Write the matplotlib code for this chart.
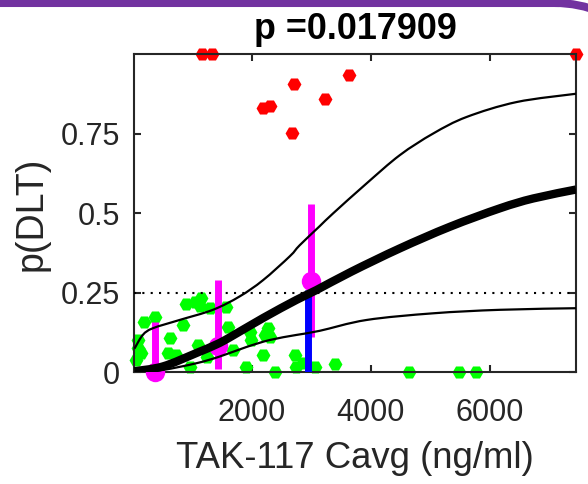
import matplotlib
matplotlib.use('Agg')
import matplotlib.pyplot as plt
import numpy as np
from matplotlib.patches import Arc, PathPatch
from matplotlib.path import Path
from matplotlib.lines import Line2D
from matplotlib.transforms import IdentityTransform

plt.rcParams['font.family'] = ['Liberation Sans', 'DejaVu Sans']

# ---- text ----
title_text = 'p =0.017909'
x_label = 'TAK-117 Cavg (ng/ml)'
y_label = 'p(DLT)'
x_ticks = [2000, 4000, 6000]
x_ticklabels = ['2000', '4000', '6000']
y_ticks = [0, 0.25, 0.5, 0.75]
y_ticklabels = ['0', '0.25', '0.5', '0.75']
x_limits = [33, 7445]
y_limits = [0, 1]
target_rate = 0.25

# ---- patients without DLT (green, jittered) ----
no_dlt_x = [185, 370, 89, 89, 62, 146, 634, 845, 903, 1042, 1155, 1126, 1294, 1575,
            593, 734, 958, 1097, 1249, 1462, 1602, 1686, 1911, 1966, 1995, 2190, 2274,
            2219, 2303, 2387, 2723, 2751, 2862, 3059, 3407, 4644, 5479, 5760]
no_dlt_y = [0.160, 0.175, 0.102, 0.076, 0.039, 0.060, 0.107, 0.149, 0.215, 0.222, 0.233,
            0.209, 0.202, 0.207, 0.060, 0.055, 0.018, 0.086, 0.050, 0.081, 0.144, 0.071,
            0.018, 0.128, 0.102, 0.055, 0.139, 0.118, 0.112, 0.0, 0.055, 0.018, 0.031,
            0.018, 0.026, 0.0, 0.0, 0.0]

# ---- patients with DLT (red, jittered) ----
dlt_x = [1165, 1328, 2706, 2185, 2308, 2672, 3239, 3642, 7445]
dlt_y = [1.0, 1.0, 0.906, 0.830, 0.837, 0.754, 0.860, 0.936, 1.0]

# ---- fitted curve and confidence band ----
fit_x = [33, 509, 1071, 1407, 1630, 2190, 2751, 3087, 3676, 4487, 5328, 6168, 6728, 7445]
fit_p = [0.004, 0.019, 0.061, 0.088, 0.110, 0.171, 0.228, 0.259, 0.317, 0.390, 0.458,
         0.516, 0.547, 0.575]
upper_x = [33, 173, 341, 790, 1350, 1798, 2190, 2639, 2807, 3143, 3367, 3928, 4487,
           5047, 5608, 6449, 7445]
upper_p = [0.075, 0.118, 0.139, 0.165, 0.197, 0.239, 0.290, 0.365, 0.400, 0.460, 0.500,
           0.594, 0.683, 0.751, 0.803, 0.850, 0.876]
lower_x = [33, 509, 1071, 1462, 1911, 2303, 2751, 3143, 3928, 5047, 6168, 7445]
lower_p = [0.0, 0.008, 0.029, 0.050, 0.080, 0.102, 0.118, 0.131, 0.165, 0.186, 0.197, 0.202]

# ---- binned observed rates ----
bin_x = [370, 1434, 2990]
bin_p = [0.0, 0.082, 0.288]
bin_lo = [0.0, 0.011, 0.113]
bin_hi = [0.160, 0.291, 0.531]

# ---- model prediction at bin ----
pred_x = [2950]
pred_p = [0.259]


def smooth_path(xs, ys):
    """Catmull-Rom curve through the read points, as cubic Bezier segments."""
    pts = np.column_stack([xs, ys]).astype(float)
    n = len(pts)
    verts = [pts[0]]
    codes = [Path.MOVETO]
    for i in range(n - 1):
        p0 = pts[i - 1] if i > 0 else pts[i]
        p1 = pts[i]
        p2 = pts[i + 1]
        p3 = pts[i + 2] if i + 2 < n else pts[i + 1]
        c1 = p1 + (p2 - p0) / 6.0
        c2 = p2 - (p3 - p1) / 6.0
        verts += [c1, c2, p2]
        codes += [Path.CURVE4] * 3
    return Path(verts, codes)


fig = plt.figure(figsize=(5.88, 4.84), dpi=100)
ax = fig.add_axes([0.2287, 0.2304, 0.7509, 0.6574])

ax.plot(no_dlt_x, no_dlt_y, 'H', color='#00ff00', ms=10, mec='none', clip_on=False, zorder=2)
ax.plot(dlt_x, dlt_y, 'H', color='#ff0000', ms=10, mec='none', clip_on=False, zorder=2)
ax.axhline(target_rate, color='black', lw=1.5, ls=(0, (1, 3)), zorder=3)
ax.vlines(bin_x, bin_lo, bin_hi, color='#ff00ff', lw=5, zorder=4)
ax.plot(bin_x, bin_p, 'o', color='#ff00ff', ms=14, mec='none', clip_on=False, zorder=4)
ax.vlines(pred_x, [0] * len(pred_x), pred_p, color='#0000ff', lw=5, zorder=5)
ax.add_patch(PathPatch(smooth_path(upper_x, upper_p), fill=False, ec='black', lw=1.6, zorder=6))
ax.add_patch(PathPatch(smooth_path(lower_x, lower_p), fill=False, ec='black', lw=1.6, zorder=6))
ax.add_patch(PathPatch(smooth_path(fit_x, fit_p), fill=False, ec='black', lw=6,
                       capstyle='butt', zorder=6))

ax.set_xlim(x_limits)
ax.set_ylim(y_limits)
ax.set_xticks(x_ticks)
ax.set_xticklabels(x_ticklabels)
ax.set_yticks(y_ticks)
ax.set_yticklabels(y_ticklabels)

for s in ax.spines.values():
    s.set_linewidth(1.5)
    s.set_color('#262626')
ax.tick_params(direction='in', length=5, width=1.5, color='#262626',
               labelsize=22, labelcolor='#262626', top=True, right=True)
ax.tick_params(axis='x', pad=18.5)
ax.tick_params(axis='y', pad=10.5)

ax.set_title(title_text, fontsize=25.8, fontweight='bold', pad=11)
ax.set_xlabel(x_label, fontsize=26.3, color='#262626', labelpad=9)
ax.set_ylabel(y_label, fontsize=27, color='#262626', labelpad=8)

# decorative purple frame edge at the top
purple = '#7232a0'
fig.add_artist(Line2D([-10, 555], [481, 481], color=purple, lw=5.8,
                      transform=IdentityTransform()))
fig.add_artist(Arc((555, 361), 240, 240, theta1=0, theta2=90, color=purple, lw=5.8,
                   transform=IdentityTransform()))

fig.savefig('out.png', dpi=100)
